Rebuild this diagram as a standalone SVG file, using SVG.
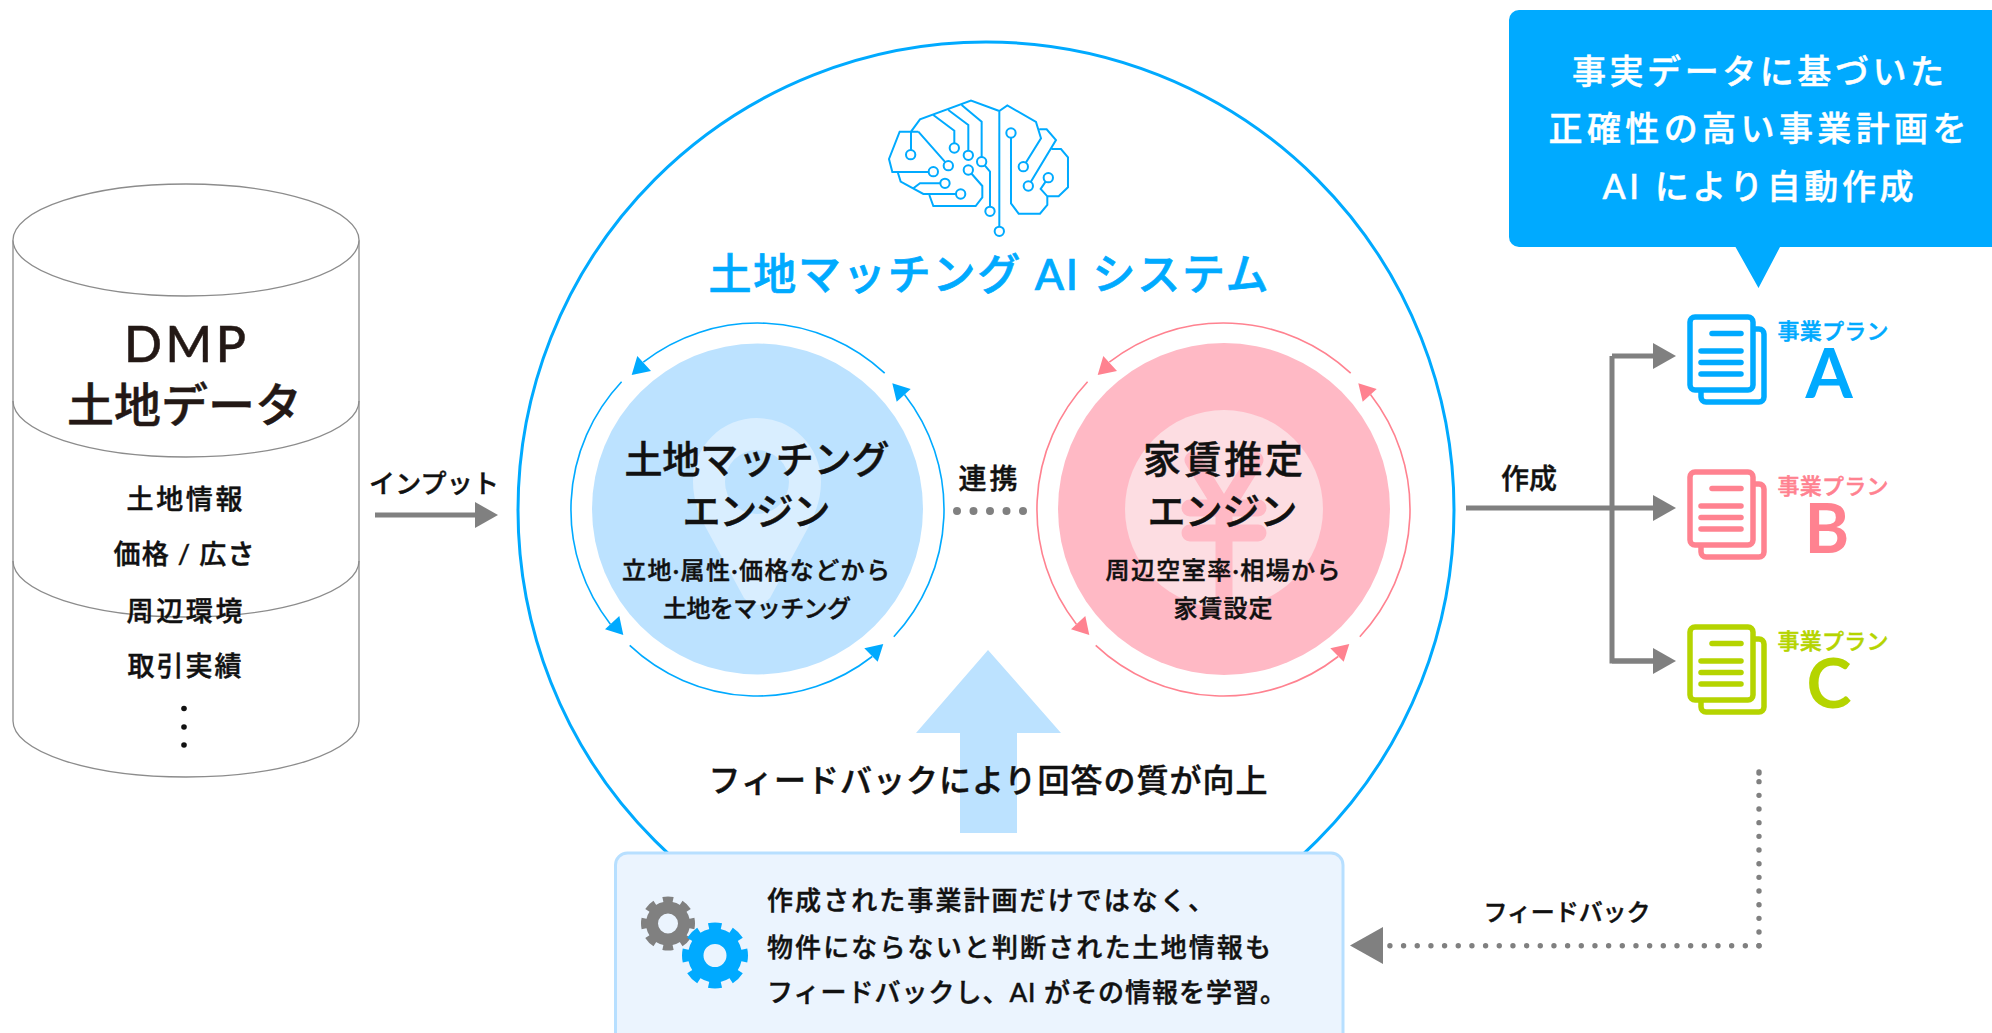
<svg xmlns="http://www.w3.org/2000/svg" xmlns:xlink="http://www.w3.org/1999/xlink" width="1992" height="1033" viewBox="0 0 1992 1033">
<style>
text{font-family:"Lato","Noto Sans CJK JP","Noto Sans",sans-serif;font-weight:500;fill:#111;stroke:#111;stroke-width:.45;text-anchor:middle}
text.start{text-anchor:start}
text.ink{fill:#231815;stroke:#231815}
text.wh{fill:#fff;stroke:#fff}
text.b{fill:#00aaff;stroke:#00aaff}
text.p{fill:#ff8290;stroke:#ff8290}
text.g{fill:#b5d400;stroke:#b5d400}
text.big{font-weight:700;stroke-width:0}
.cyl{fill:#fff;stroke:#8c8c8c;stroke-width:1.3}
.arc{fill:none;stroke:#8c8c8c;stroke-width:1.3}
.bl{fill:none;stroke:#00aaff;stroke-width:1.6}
.pk{fill:none;stroke:#ff8290;stroke-width:1.6}
.brain{fill:none;stroke:#00aaff;stroke-width:6}
.brain circle{fill:#fff}
.gl{fill:none;stroke:#808080;stroke-width:5}
.dot{fill:none;stroke:#808080;stroke-width:5.400;stroke-dasharray:0 13.670;stroke-linecap:round}
.doc rect{fill:#fff;stroke:currentColor;stroke-width:5.500}
.doc line{stroke:currentColor;stroke-width:5.500;stroke-linecap:round}
</style>
<defs>
<marker id="ah" markerUnits="userSpaceOnUse" markerWidth="24" markerHeight="26" refX="0" refY="13" orient="auto"><path d="M0 0L23 13L0 26Z" fill="#808080"/></marker>
<g id="doc" class="doc">
<rect x="1701" y="329" width="63" height="73" rx="5"/>
<rect x="1690" y="317" width="63" height="73" rx="5"/>
<line x1="1712" y1="333.500" x2="1741" y2="333.500"/>
<line x1="1701" y1="351" x2="1741" y2="351"/>
<line x1="1701" y1="362.500" x2="1741" y2="362.500"/>
<line x1="1701" y1="374" x2="1741" y2="374"/>
</g>
</defs>
<rect width="1992" height="1033" fill="#fff"/>

<g id="ai-system">
<circle cx="986" cy="510" r="468" fill="#fff" stroke="#00aaff" stroke-width="3"/>
<g id="brain" class="brain" transform="translate(860 80) scale(.3333)">
<path d="M418 93L333 62L180 118L153 155V224M175 155H119L87 237L97 276H220M175 155L265 257M220 105L283 152V204M265 90L325 135V226M305 75L365 125V245L390 275V394M113 276L122 305L190 342H302M160 325L180 310H255M208 345L220 378H347L367 352V318L325 270M418 93V454M418 93L442 76L528 126L543 175L490 260M538 148H560L588 180L505 318M575 207H603L624 232V322L596 349H562L542 327L565 293M453 159V370L476 401H540L562 375V349"/>
<circle cx="152" cy="224" r="14"/><circle cx="220" cy="275" r="14"/><circle cx="265" cy="257" r="14"/><circle cx="283" cy="204" r="14"/><circle cx="325" cy="226" r="14"/><circle cx="365" cy="245" r="14"/><circle cx="390" cy="394" r="14"/><circle cx="302" cy="342" r="14"/><circle cx="255" cy="310" r="14"/><circle cx="325" cy="270" r="14"/><circle cx="418" cy="454" r="14"/><circle cx="490" cy="260" r="14"/><circle cx="505" cy="318" r="14"/><circle cx="565" cy="293" r="14"/><circle cx="453" cy="159" r="14"/>
</g>
<text class="b" x="988.500" y="290" font-size="43" textLength="560" style="stroke-width:.7">土地マッチング AI システム</text>
</g>

<g id="engine-land">
<circle cx="757.500" cy="509" r="165.500" fill="#bce2ff"/>
<path d="M693 482a64 64 0 0 1 128 0c0 16-5 30-12 44L770 598q-13 14-26 0L705 526C698 512 693 498 693 482ZM789 482a32 32 0 1 0-64 0a32 32 0 1 0 64 0Z" fill="#d9eeff" fill-rule="evenodd"/>
<path class="bl" d="M884.700 373.200A186.500 186.500 0 0 0 643.300 362.100M621.600 381.700A186.500 186.500 0 0 0 610.400 624.200M629.700 645.400A186.500 186.500 0 0 0 872.200 656.500M893.800 636.700A186.500 186.500 0 0 0 904.500 394.600"/>
<path fill="#00aaff" d="M631.700 375L637.300 356L651 371ZM623.300 635L605 629.300L619.300 616ZM883.300 644L864.300 648.300L877.700 661.700ZM892.300 383.300L896.700 401.700L910.700 389Z"/>
<text x="757" y="473" font-size="38" textLength="265">土地マッチング</text>
<text x="756.500" y="525" font-size="38" textLength="148">エンジン</text>
<text x="756" y="579" font-size="24" textLength="268">立地·属性·価格などから</text>
<text x="757" y="617" font-size="24" textLength="188">土地をマッチング</text>
</g>

<g id="engine-rent">
<circle cx="1224" cy="509" r="166" fill="#ffb9c5"/>
<circle cx="1224" cy="509" r="99" fill="#fddde2"/>
<path d="M1193 460L1224 510L1255 460M1224 510V600M1190 508H1258M1190 533H1258" fill="none" stroke="#ffb9c5" stroke-width="17" stroke-linecap="round"/>
<path class="pk" d="M1350.700 373.200A186.500 186.500 0 0 0 1109.300 362.100M1087.600 381.700A186.500 186.500 0 0 0 1076.400 624.200M1095.700 645.400A186.500 186.500 0 0 0 1338.200 656.500M1359.800 636.700A186.500 186.500 0 0 0 1370.500 394.600"/>
<path fill="#ff8290" d="M1097.700 375L1103.300 356L1117 371ZM1089.300 635L1071 629.300L1085.300 616ZM1349.300 644L1330.300 648.300L1343.700 661.700ZM1358.300 383.300L1362.700 401.700L1376.700 389Z"/>
<text x="1223" y="473" font-size="38" textLength="160">家賃推定</text>
<text x="1222.500" y="525" font-size="38" textLength="150">エンジン</text>
<text x="1223" y="579" font-size="24" textLength="235">周辺空室率·相場から</text>
<text x="1223" y="617" font-size="24" textLength="99">家賃設定</text>
</g>

<g id="database">
<path class="cyl" d="M13 241V721A173 56 0 0 0 359 721V241Z"/>
<path class="arc" d="M13 561A173 56 0 0 0 359 561"/>
<path class="arc" d="M13 401A173 56 0 0 0 359 401"/>
<ellipse class="cyl" cx="186" cy="240" rx="173" ry="56"/>
<text class="ink" x="185" y="362" font-size="50" textLength="122">DMP</text>
<text class="ink" x="184.500" y="422" font-size="47" textLength="235">土地データ</text>
<text x="184.500" y="509" font-size="27" textLength="116">土地情報</text>
<text x="184" y="564" font-size="27" textLength="141">価格 / 広さ</text>
<text x="184.500" y="620.500" font-size="27" textLength="116">周辺環境</text>
<text x="184.500" y="676" font-size="27" textLength="114">取引実績</text>
<circle cx="184" cy="708.500" r="2.800" fill="#111"/><circle cx="184" cy="727" r="2.800" fill="#111"/><circle cx="184" cy="745" r="2.800" fill="#111"/>
</g>

<g id="connectors">
<path class="gl" d="M375 515H475" marker-end="url(#ah)"/>
<path d="M957 511H1024" fill="none" stroke="#808080" stroke-width="8" stroke-dasharray="0 16.500" stroke-linecap="round"/>
<path class="gl" d="M1466 508H1653" marker-end="url(#ah)"/>
<path class="gl" d="M1612 356H1653" marker-end="url(#ah)"/>
<path class="gl" d="M1653 661H1612V356"/>
<path class="gl" d="M1612 661H1653" marker-end="url(#ah)"/>
<path class="dot" d="M1759 945.700V772"/>
<path class="dot" d="M1759 772V773" style="stroke-dasharray:none;stroke-width:5.400"/>
<path class="dot" d="M1759 945.700H1388"/>
<path d="M1350 945.500L1383 927V964Z" fill="#808080"/>
<path d="M988 650L1061 733H1017V833H960V733H916Z" fill="#bce2ff"/>
</g>
<text x="434" y="493" font-size="26" textLength="130">インプット</text>
<text x="988" y="489" font-size="28" textLength="59">連携</text>
<text x="1529" y="489" font-size="28" textLength="56">作成</text>
<text x="1567" y="921" font-size="24" textLength="167">フィードバック</text>
<text x="988" y="792" font-size="32" textLength="559">フィードバックにより回答の質が向上</text>

<g id="note">
<rect x="615.500" y="853" width="727.500" height="195" rx="12" fill="#ebf4fe" stroke="#b7dfff" stroke-width="3"/>
<circle cx="668" cy="923.500" r="16" fill="none" stroke="#808080" stroke-width="12"/>
<circle cx="668" cy="923.500" r="24" fill="none" stroke="#808080" stroke-width="6" stroke-dasharray=".55 .45" stroke-dashoffset=".275" pathLength="8"/>
<circle cx="715" cy="955.500" r="19.250" fill="none" stroke="#00aaff" stroke-width="15.500"/>
<circle cx="715" cy="955.500" r="29.500" fill="none" stroke="#00aaff" stroke-width="7" stroke-dasharray=".55 .45" stroke-dashoffset=".275" pathLength="8"/>
<text class="start" x="767" y="910" font-size="26" textLength="447">作成された事業計画だけではなく、</text>
<text class="start" x="767" y="957" font-size="26" textLength="504">物件にならないと判断された土地情報も</text>
<text class="start" x="767" y="1002" font-size="26" textLength="519">フィードバックし、AI がその情報を学習。</text>
</g>

<g id="callout">
<path d="M1992 10H1519A10 10 0 0 0 1509 20V237A10 10 0 0 0 1519 247H1735.500L1758.500 288L1780 247H1992Z" fill="#00aaff"/>
<text class="wh" x="1758" y="84" font-size="34" textLength="372">事実データに基づいた</text>
<text class="wh" x="1757.500" y="141" font-size="34" textLength="418">正確性の高い事業計画を</text>
<text class="wh" x="1758" y="199" font-size="34" textLength="311">AI により自動作成</text>
</g>

<g id="plan-a" color="#00aaff">
<use xlink:href="#doc" href="#doc"/>
<text class="b" x="1833" y="339" font-size="22" textLength="111">事業プラン</text>
<text class="b big" x="1829" y="398" font-size="68">A</text>
</g>
<g id="plan-b" color="#ff8290">
<use xlink:href="#doc" href="#doc" y="155"/>
<text class="p" x="1833" y="494" font-size="22" textLength="111">事業プラン</text>
<text class="p big" x="1827" y="553" font-size="68">B</text>
</g>
<g id="plan-c" color="#b5d400">
<use xlink:href="#doc" href="#doc" y="310"/>
<text class="g" x="1833" y="649" font-size="22" textLength="111">事業プラン</text>
<text class="g big" x="1829" y="708" font-size="68">C</text>
</g>
</svg>
